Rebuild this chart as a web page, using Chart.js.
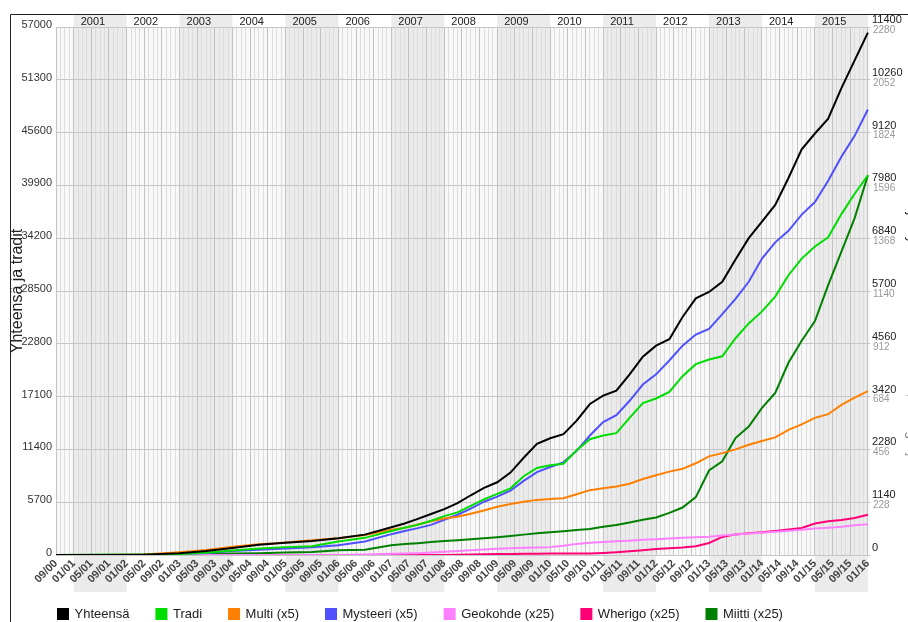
<!DOCTYPE html>
<html><head><meta charset="utf-8">
<script src="https://cdn.jsdelivr.net/npm/chart.js@4.4.1/dist/chart.umd.min.js"></script>
<style>html,body{margin:0;padding:0;background:#fff;}canvas{display:block;}</style>
</head><body>
<canvas id="c" width="908" height="622"></canvas>
<script>
// ---- data ----
const dates = ['2000-09','2001-09','2002-05','2003-01','2003-07','2004-01','2004-07','2005-01','2005-07','2006-01',
 '2006-07','2007-01','2007-04','2007-07','2007-10','2008-01','2008-04','2008-07','2008-10','2009-01',
 '2009-04','2009-07','2009-10','2010-01','2010-04','2010-07','2010-10','2011-01','2011-04','2011-07',
 '2011-10','2012-01','2012-04','2012-07','2012-10','2013-01','2013-04','2013-07','2013-10','2014-01',
 '2014-04','2014-07','2014-10','2015-01','2015-04','2015-07','2015-10','2016-01'];
const yhteensa = [0,10,40,200,420,750,1100,1330,1520,1800,
 2200,3000,3400,3900,4420,4950,5600,6450,7250,7850,
 8900,10500,12000,12600,13050,14500,16300,17200,17750,19500,
 21400,22600,23300,25700,27700,28400,29500,31900,34200,36000,
 37800,40700,43800,45500,47100,50400,53400,56400];
const tradi = [5,15,30,100,250,480,700,850,950,1450,
 1850,2600,2950,3250,3700,4200,4600,5300,6000,6600,
 7200,8500,9400,9700,9850,11300,12500,12900,13150,14800,
 16400,16900,17600,19300,20600,21100,21450,23400,25000,26300,
 27900,30200,32000,33300,34300,36800,39000,41000];
const multi = [0,0,10,60,110,180,230,270,320,360,
 430,545,590,660,730,790,825,890,960,1040,
 1100,1150,1190,1210,1225,1310,1400,1440,1480,1540,
 1640,1720,1800,1860,1980,2130,2200,2280,2380,2460,
 2540,2700,2820,2960,3040,3240,3400,3540];
const mysteeri = [0,0,5,20,45,85,115,140,165,210,
 290,450,520,580,650,760,870,1000,1150,1260,
 1390,1600,1790,1900,2000,2250,2580,2870,3020,3330,
 3680,3900,4200,4520,4760,4880,5200,5530,5900,6400,
 6750,7000,7350,7620,8080,8600,9050,9620];
const geokohde = [0,0,0,0,0,0,0,0,0,0,
 2,5,6,8,11,14,17,20,24,27,
 29,31,32,34,40,48,53,56,59,62,
 66,68,71,74,77,79,84,88,93,96,
 100,105,109,114,118,122,128,133];
const wherigo = [0,0,0,0,0,0,0,0,0,0,
 0,0,0,0,0,0,1,2,3,4,
 4,5,5,6,6,7,7,9,12,16,
 21,26,29,32,38,52,78,89,94,98,
 104,110,117,136,146,151,160,174];
const miitti = [0,1,2,3,4,6,8,11,13,20,
 23,42,47,51,56,60,64,68,72,77,
 82,88,94,98,103,108,112,122,130,140,
 152,162,182,205,250,365,405,505,555,635,
 700,830,925,1010,1165,1310,1455,1640];
const yearLabels = ['2001','2002','2003','2004','2005','2006','2007','2008','2009','2010','2011','2012','2013','2014','2015'];
const seriesNames = ['Yhteensä','Tradi','Multi (x5)','Mysteeri (x5)','Geokohde (x25)','Wherigo (x25)','Miitti (x25)'];
const seriesColors = ['#000000','#00dd00','#ff8000','#5050ff','#ff80ff','#ff0077','#008000'];
const leftTitle = 'Yhteensä ja tradit';
const rightTitleA = 'Multi ja mysteerit';
const rightTitleB = 'Geokohteet, wherigot ja miitit';

// ---- helpers ----
const toYear = s => { const [y, m] = s.split('-').map(Number); return y + (m - 1) / 12; };
const pts = vals => dates.map((d, i) => ({x: toYear(d), y: vals[i]}));
const monthIndex = v => Math.round((v - 2000) * 12) - 8;
const pad2 = n => (n < 10 ? '0' : '') + n;
const noClip = s => { s._computeLabelArea = () => undefined; };

Chart.defaults.font.family = '"Liberation Sans", Arial, sans-serif';
Chart.defaults.color = '#333';

const X_MIN = toYear('2000-09'), X_MAX = 2016.04;

const seriesData = [yhteensa, tradi, multi, mysteeri, geokohde, wherigo, miitti];
const seriesAxis = ['y', 'y', 'y2', 'y2', 'y3', 'y3', 'y3'];
const datasets = seriesNames.map((n, i) => ({
  label: n, data: pts(seriesData[i]), yAxisID: seriesAxis[i],
  borderColor: seriesColors[i], backgroundColor: seriesColors[i],
  borderWidth: 2, pointRadius: 0, tension: 0, fill: false
}));

const bandPlugin = {
  id: 'bands',
  beforeDraw(chart) {
    const {ctx, chartArea: a, scales: {x}} = chart;
    ctx.save();
    ctx.fillStyle = '#fff';
    ctx.fillRect(0, 0, chart.width, chart.height);
    for (let y = 2000; y <= 2016; y++) {
      const x0 = Math.max(a.left, x.getPixelForValue(y));
      const x1 = Math.min(a.right, x.getPixelForValue(y + 1));
      if (x1 <= x0) continue;
      const odd = y % 2 === 1;
      ctx.fillStyle = odd ? '#ebebeb' : '#f8f8f8';
      ctx.fillRect(x0, a.top, x1 - x0, a.bottom - a.top);
      if (odd) {
        ctx.fillStyle = '#ebebeb';
        ctx.fillRect(x0, a.top - 12, x1 - x0, 12);
        ctx.fillRect(x0, a.bottom, x1 - x0, 37);
      }
    }
    ctx.strokeStyle = '#222';
    ctx.lineWidth = 1;
    ctx.beginPath();
    ctx.moveTo(10.5, chart.height);
    ctx.lineTo(10.5, 14.5);
    ctx.lineTo(chart.width, 14.5);
    ctx.stroke();
    ctx.restore();
  },
  afterDraw(chart) {
    const {ctx} = chart;
    ctx.save();
    ctx.font = '13px "Liberation Sans", Arial, sans-serif';
    ctx.textAlign = 'center';
    ctx.textBaseline = 'middle';
    ctx.translate(912, 0);
    ctx.rotate(Math.PI / 2);
    ctx.fillStyle = '#111';
    ctx.fillText(rightTitleA, 230, 0);
    ctx.fillStyle = '#888';
    ctx.fillText(rightTitleB, 410, 0);
    ctx.restore();
  },
  afterLayout(chart) {
    const lg = chart.legend;
    if (!lg) return;
    const P = lg.options.labels.padding;
    const w = lg.right - lg.left, h = lg.bottom - lg.top;
    lg.left = 58 - P; lg.right = lg.left + w;
    lg.top = 614 - P - 6.5; lg.bottom = lg.top + h;
  }
};

new Chart(document.getElementById('c'), {
  type: 'line',
  data: {datasets},
  plugins: [bandPlugin],
  options: {
    responsive: false, animation: false, devicePixelRatio: 1,
    layout: {padding: {top: 15, left: 0, right: 0, bottom: 0}},
    plugins: {
      tooltip: {enabled: false},
      legend: {
        position: 'bottom', align: 'start',
        labels: {boxWidth: 10, boxHeight: 10, padding: 27, color: '#222', font: {size: 13}}
      }
    },
    scales: {
      x: {
        type: 'linear', position: 'bottom', min: X_MIN, max: X_MAX,
        afterBuildTicks(s) {
          const t = [];
          for (let m = 0; m <= 184; m++) t.push({value: 2000 + (8 + m) / 12});
          s.ticks = t;
        },
        afterFit(s) { s.height = 67 - (s.chart.legend ? s.chart.legend.height : 0); noClip(s); },
        ticks: {
          autoSkip: false, minRotation: 45, maxRotation: 45, padding: 2,
          color: '#444', font: {size: 11, weight: 'bold'},
          callback(v) {
            const m = monthIndex(v);
            if (m % 4 !== 0) return '';
            const mon = (8 + m) % 12 + 1, yr = Math.floor((8 + m) / 12) % 100;
            return pad2(mon) + '/' + pad2(yr);
          }
        },
        grid: {
          drawTicks: false, lineWidth: 1,
          color(ctx) { const v = ctx.tick ? ctx.tick.value : 0; return monthIndex(v) % 4 === 0 ? '#c2c2c2' : '#dcdcdc'; }
        },
        border: {display: false}
      },
      xTop: {
        type: 'linear', position: 'top', min: X_MIN, max: X_MAX,
        afterBuildTicks(s) { s.ticks = yearLabels.map(y => ({value: Number(y)})); },
        afterFit(s) { s.height = 12; noClip(s); },
        ticks: {autoSkip: false, maxRotation: 0, align: 'start', labelOffset: 7, padding: -2,
          color: '#222', font: {size: 11}, callback: v => String(v)},
        grid: {display: false, drawTicks: false},
        border: {display: false}
      },
      y: {
        position: 'left', min: 0, max: 57000,
        afterFit(s) { s.width = 56; },
        ticks: {stepSize: 5700, padding: 4, labelOffset: -2, color: '#333', font: {size: 11},
          callback: v => String(v)},
        grid: {color: '#c6c6c6', drawTicks: false},
        border: {display: false},
        title: {display: true, text: leftTitle, color: '#222', font: {size: 16}, padding: {top: 8, bottom: 0}}
      },
      y2: {
        position: 'right', min: 0, max: 11400,
        afterFit(s) { s.width = 0; noClip(s); },
        ticks: {stepSize: 1140, padding: 2, labelOffset: -7, color: '#222', font: {size: 11},
          callback: v => String(v)},
        grid: {display: false, drawTicks: false},
        border: {display: false}
      },
      y3: {
        position: 'right', min: 0, max: 2280,
        afterFit(s) { s.width = 38; noClip(s); },
        ticks: {stepSize: 228, padding: 3, labelOffset: 3, color: '#999', font: {size: 10},
          callback: v => (v === 0 ? '' : String(v))},
        grid: {display: false, drawTicks: false},
        border: {display: false}
      }
    }
  }
});
</script>
</body></html>
